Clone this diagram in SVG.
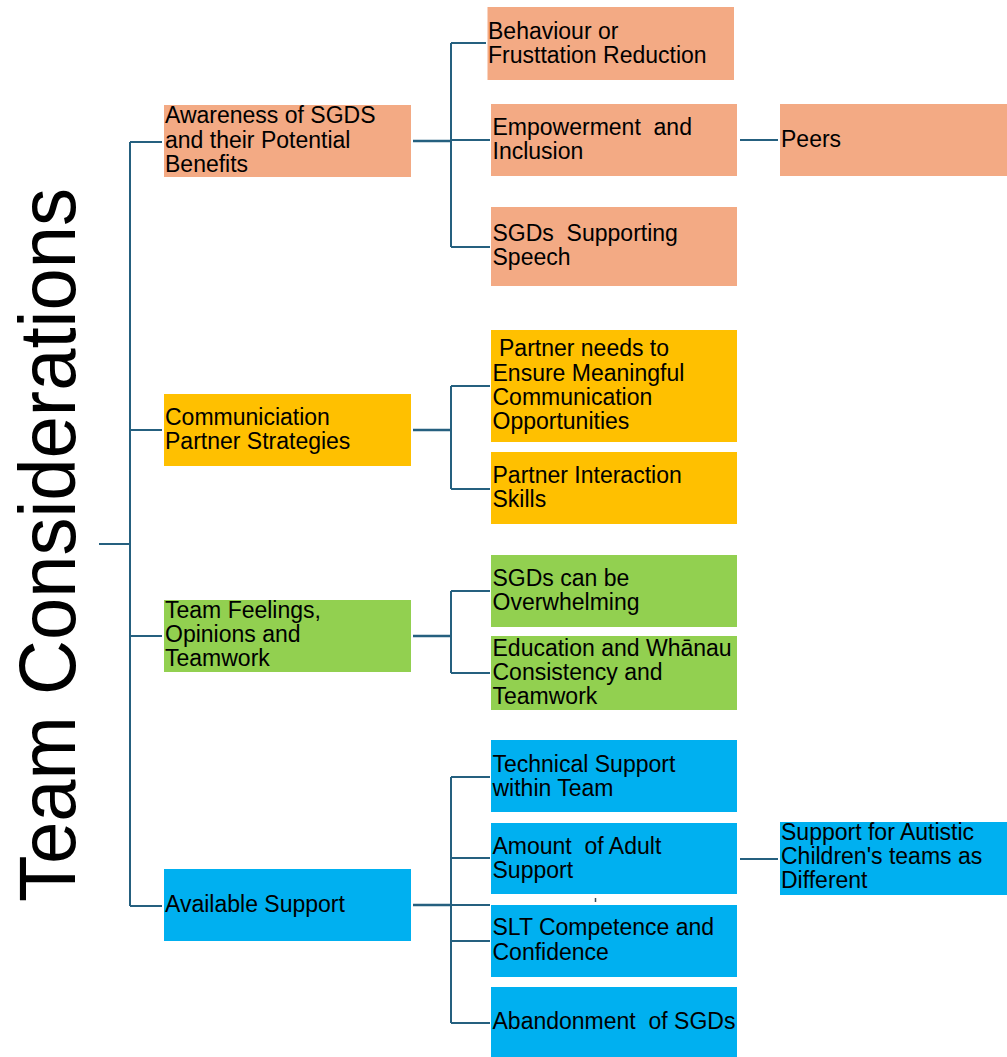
<svg xmlns="http://www.w3.org/2000/svg" width="1007" height="1057" viewBox="0 0 1007 1057">
  <style>
    text { font-family: "Liberation Sans", Arial, sans-serif; fill: #000; }
    .t { font-size: 23px; white-space: pre; }
    .title { font-size: 80px; }
    .salmon { fill: #F3AA84; }
    .yellow { fill: #FFC000; }
    .green { fill: #92D050; }
    .blue { fill: #00B0F0; }
    .link { fill: none; stroke: #25607F; stroke-width: 2; }
    .feed { fill: none; stroke: #25607F; stroke-width: 2.6; }
  </style>

  <rect width="1007" height="1057" fill="#FFFFFF"/>

  <!-- connectors -->
  <g id="connectors">
    <path class="link" d="M99 544 H130 M130 142 V906 M130 142 H162 M130 430 H162 M130 636 H162 M130 906 H162"/>
    <!-- awareness branch -->
    <path class="feed" d="M413 141 H451"/>
    <path class="link" d="M451 43 V247 M451 43 H486 M451 140 H490 M451 247 H490"/>
    <path class="link" d="M740 140 H778"/>
    <!-- partner strategies branch -->
    <path class="feed" d="M413 430 H451"/>
    <path class="link" d="M451 386 V489 M451 386 H490 M451 489 H490"/>
    <!-- team feelings branch -->
    <path class="feed" d="M413 636 H451"/>
    <path class="link" d="M451 591 V673 M451 591 H490 M451 673 H490"/>
    <!-- available support branch -->
    <path class="feed" d="M413 905 H451"/>
    <path class="link" d="M451 905 H490 M451 777 V1023 M451 777 H490 M451 858 H490 M451 941 H490 M451 1023 H490"/>
    <path class="link" d="M740 859 H778"/>
    <path d="M595.5 898 V902" stroke="#3A4A55" stroke-width="1.5"/>
  </g>

  <!-- root -->
  <g id="root">
    <text class="title" transform="translate(75,545) rotate(-90)" text-anchor="middle" textLength="714" lengthAdjust="spacingAndGlyphs">Team Considerations</text>
  </g>

  <!-- level 1 -->
  <g id="awareness">
    <rect class="salmon" x="164" y="105" width="247" height="72"/>
    <text class="t" x="165" y="123">Awareness of SGDS</text>
    <text class="t" x="165" y="147.5">and their Potential</text>
    <text class="t" x="165" y="171.5">Benefits</text>
  </g>
  <g id="partner-strategies">
    <rect class="yellow" x="164" y="394" width="247" height="72"/>
    <text class="t" x="165" y="425">Communiciation</text>
    <text class="t" x="165" y="449">Partner Strategies</text>
  </g>
  <g id="team-feelings">
    <rect class="green" x="164" y="600" width="247" height="72"/>
    <text class="t" x="165" y="618">Team Feelings,</text>
    <text class="t" x="165" y="642">Opinions and</text>
    <text class="t" x="165" y="666">Teamwork</text>
  </g>
  <g id="available-support">
    <rect class="blue" x="164" y="869" width="247" height="72"/>
    <text class="t" x="165" y="912">Available Support</text>
  </g>

  <!-- level 2: awareness -->
  <g id="behaviour">
    <rect class="salmon" x="487.5" y="7" width="246.5" height="73"/>
    <text class="t" x="488" y="39">Behaviour or</text>
    <text class="t" x="488" y="63">Frusttation Reduction</text>
  </g>
  <g id="empowerment">
    <rect class="salmon" x="491" y="104" width="246" height="72"/>
    <text class="t" x="492.5" y="135">Empowerment  and</text>
    <text class="t" x="492.5" y="159">Inclusion</text>
  </g>
  <g id="peers">
    <rect class="salmon" x="780" y="104" width="227" height="72"/>
    <text class="t" x="781" y="147">Peers</text>
  </g>
  <g id="supporting-speech">
    <rect class="salmon" x="491" y="207" width="246" height="79"/>
    <text class="t" x="492.5" y="241">SGDs  Supporting</text>
    <text class="t" x="492.5" y="265">Speech</text>
  </g>

  <!-- level 2: partner strategies -->
  <g id="meaningful-opportunities">
    <rect class="yellow" x="491" y="330" width="246" height="112"/>
    <text class="t" x="499" y="356">Partner needs to</text>
    <text class="t" x="492.5" y="380.5">Ensure Meaningful</text>
    <text class="t" x="492.5" y="405">Communication</text>
    <text class="t" x="492.5" y="429">Opportunities</text>
  </g>
  <g id="interaction-skills">
    <rect class="yellow" x="491" y="452" width="246" height="72"/>
    <text class="t" x="492.5" y="483">Partner Interaction</text>
    <text class="t" x="492.5" y="507">Skills</text>
  </g>

  <!-- level 2: team feelings -->
  <g id="overwhelming">
    <rect class="green" x="491" y="555" width="246" height="72"/>
    <text class="t" x="492.5" y="586">SGDs can be</text>
    <text class="t" x="492.5" y="610">Overwhelming</text>
  </g>
  <g id="whanau-consistency">
    <rect class="green" x="491" y="636" width="246" height="74"/>
    <text class="t" x="492.5" y="656">Education and Whānau</text>
    <text class="t" x="492.5" y="680">Consistency and</text>
    <text class="t" x="492.5" y="704">Teamwork</text>
  </g>

  <!-- level 2: available support -->
  <g id="technical-support">
    <rect class="blue" x="491" y="740" width="246" height="72"/>
    <text class="t" x="492.5" y="772">Technical Support</text>
    <text class="t" x="492.5" y="796">within Team</text>
  </g>
  <g id="adult-support">
    <rect class="blue" x="491" y="823" width="246" height="71"/>
    <text class="t" x="492.5" y="853.5">Amount  of Adult</text>
    <text class="t" x="492.5" y="877.5">Support</text>
  </g>
  <g id="autistic-teams">
    <rect class="blue" x="780" y="822" width="227" height="73"/>
    <text class="t" x="781" y="840">Support for Autistic</text>
    <text class="t" x="781" y="864">Children's teams as</text>
    <text class="t" x="781" y="888">Different</text>
  </g>
  <g id="slt-competence">
    <rect class="blue" x="491" y="905" width="246" height="72"/>
    <text class="t" x="492.5" y="935">SLT Competence and</text>
    <text class="t" x="492.5" y="960">Confidence</text>
  </g>
  <g id="abandonment">
    <rect class="blue" x="491" y="987" width="246" height="70"/>
    <text class="t" x="492.5" y="1029">Abandonment  of SGDs</text>
  </g>
</svg>
